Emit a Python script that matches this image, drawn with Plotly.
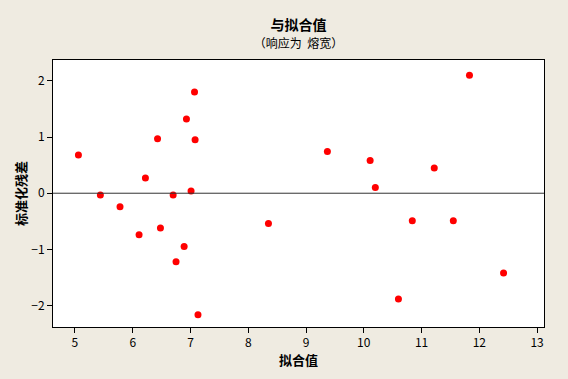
import plotly.graph_objects as go

fitted = [5.06, 5.44, 5.78, 6.11, 6.22, 6.43, 6.48, 6.70, 6.75, 6.89, 6.93, 7.01, 7.07, 7.08, 7.13,
          8.35, 9.37, 10.11, 10.20, 10.60, 10.84, 11.22, 11.55, 11.83, 12.42]
resid = [0.68, -0.03, -0.24, -0.74, 0.27, 0.97, -0.62, -0.03, -1.22, -0.95, 1.32, 0.04, 1.80, 0.95, -2.16,
         -0.54, 0.74, 0.58, 0.10, -1.88, -0.49, 0.45, -0.49, 2.10, -1.42]
x_ticks = [5, 6, 7, 8, 9, 10, 11, 12, 13]
y_ticks = [-2, -1, 0, 1, 2]

font = "Noto Sans CJK SC, SimSun, sans-serif"
bg = "#EFEBE1"

fig = go.Figure()
fig.add_trace(go.Scatter(x=fitted, y=resid, mode="markers",
                         marker=dict(color="#FF0000", size=7, line=dict(width=0)),
                         hoverinfo="x+y"))
fig.add_hline(y=0, line=dict(color="#333333", width=1))

fig.update_layout(
    width=568, height=379,
    paper_bgcolor=bg, plot_bgcolor="white",
    margin=dict(l=53, r=24, t=60, b=52),
    showlegend=False,
    font=dict(family=font, size=12, color="black"),
    title=dict(text="<b>与拟合值</b><br><span style='font-size:12px'>（响应为  熔宽）</span>",
               x=0.5, xref="paper", xanchor="center", y=0.922, yanchor="top",
               font=dict(size=14, family=font, color="black")),
    xaxis=dict(range=[4.62, 13.12], tickvals=x_ticks, ticks="outside", ticklen=5,
               tickcolor="black", showline=True, linecolor="black", linewidth=1, mirror=True,
               showgrid=False, zeroline=False,
               title=dict(text="<b>拟合值</b>", font=dict(size=13, family=font), standoff=5),
               tickfont=dict(size=12, family=font)),
    yaxis=dict(range=[-2.38, 2.37], tickvals=y_ticks, ticks="outside", ticklen=5,
               tickcolor="black", showline=True, linecolor="black", linewidth=1, mirror=True,
               showgrid=False, zeroline=False,
               title=dict(text="<b>标准化残差</b>", font=dict(size=13, family=font), standoff=1),
               tickfont=dict(size=12, family=font)),
)

fig.write_html("out.html")
